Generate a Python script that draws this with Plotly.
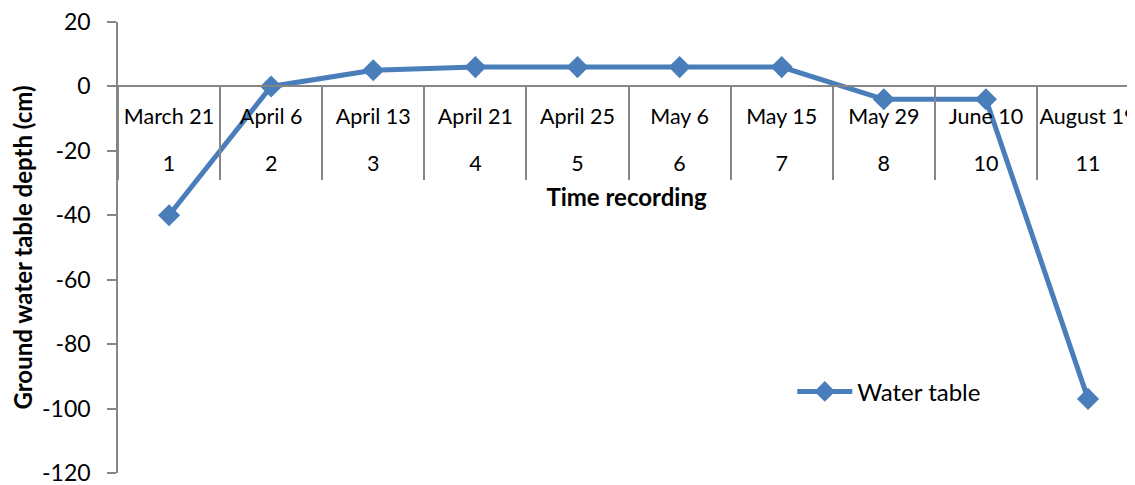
import plotly.graph_objects as go

dates = ["March 21", "April 6", "April 13", "April 21", "April 25", "May 6",
         "May 15", "May 29", "June 10", "August 19"]
indices = ["1", "2", "3", "4", "5", "6", "7", "8", "10", "11"]
depth = [-40, 0, 5, 6, 6, 6, 6, -4, -4, -97]
y_ticks = [20, 0, -20, -40, -60, -80, -100, -120]
y_ticktext = ["20", "0", "-20", "-40", "-60", "-80", "-100", "-120"]

FONT = "Lato"
AXIS_GRAY = "#868686"
BLUE = "#4a7ebb"
X_RANGE = [-0.5, 9.46]
ZERO_POS = (0 - (-120)) / (20 - (-120))

fig = go.Figure()
fig.add_trace(go.Scatter(
    x=dates, y=depth, mode="lines+markers", name="Water table",
    line=dict(color=BLUE, width=5),
    marker=dict(symbol="diamond", size=17, color=BLUE),
    cliponaxis=False,
))
# helper trace (draws nothing) so the second-row category axis is rendered
fig.add_trace(go.Scatter(
    x=list(range(len(indices))), y=depth, xaxis="x2", mode="none",
    showlegend=False, hoverinfo="skip",
))

fig.update_layout(
    width=1135, height=485,
    margin=dict(l=110, r=8, t=14, b=20),
    paper_bgcolor="white", plot_bgcolor="white",
    font=dict(family=FONT, size=21, color="black"),
    showlegend=True,
    legend=dict(x=0.663, y=0.18, xanchor="left", yanchor="middle",
                itemwidth=55,
                bgcolor="rgba(0,0,0,0)", font=dict(size=24, family=FONT)),
    xaxis=dict(
        type="category", categoryarray=dates,
        range=X_RANGE, automargin=False,
        anchor="free", position=ZERO_POS,
        showline=True, linecolor=AXIS_GRAY, linewidth=1.5,
        showgrid=False, zeroline=False,
        tickmode="array", tickvals=dates, ticktext=dates,
        tickangle=0,
        tickson="boundaries", ticks="outside", ticklen=93,
        tickcolor=AXIS_GRAY, tickwidth=1.5,
        ticklabelstandoff=11,
        tickfont=dict(size=21.5, family=FONT),
    ),
    xaxis2=dict(
        type="linear", range=X_RANGE, automargin=False,
        overlaying="x", anchor="free", position=ZERO_POS, side="bottom",
        showline=False, showgrid=False, zeroline=False,
        tickmode="array", tickvals=list(range(len(indices))), ticktext=indices,
        tickangle=0, ticks="", ticklen=0,
        ticklabelstandoff=62,
        tickfont=dict(size=21.5, family=FONT),
        title=dict(text="<b>Time recording</b>", standoff=14,
                   font=dict(size=24, family=FONT)),
    ),
    yaxis=dict(
        range=[-120, 20], automargin=False,
        tickmode="array", tickvals=y_ticks, ticktext=y_ticktext,
        showline=True, linecolor=AXIS_GRAY, linewidth=1.5,
        showgrid=False, zeroline=False,
        ticks="outside", ticklen=9, tickcolor=AXIS_GRAY, tickwidth=1.5,
        tickfont=dict(size=23, family=FONT),
        ticklabelstandoff=12, ticklabeloverflow="allow",
        title=dict(text="<b>Ground water table depth (cm)</b>", standoff=30,
                   font=dict(size=24, family=FONT)),
    ),
)

fig.write_html("out.html")
